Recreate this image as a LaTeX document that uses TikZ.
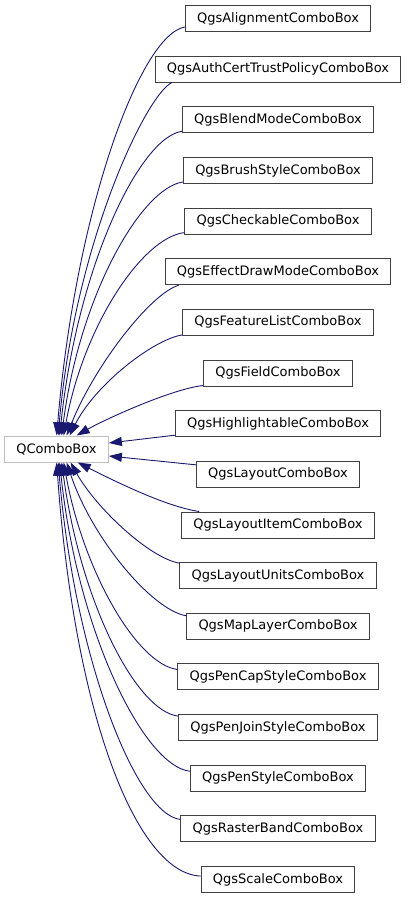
\documentclass[tikz,border=0pt]{standalone}
\usepackage{fontspec}
\setmainfont{DejaVu Sans}
\usetikzlibrary{arrows.meta,calc}
\definecolor{edgeblue}{HTML}{191970}
\definecolor{boxgray}{HTML}{404040}
\definecolor{extgray}{HTML}{BFBFBF}
\begin{document}
\begin{tikzpicture}[x=1bp,y=-1bp,
  cls/.style={draw=boxgray,line width=1bp,fill=white,inner xsep=11.7bp,inner ysep=0pt,
    minimum height=26bp,font=\fontsize{13bp}{15bp}\selectfont,text=black},
  ext/.style={cls,draw=extgray},
  edge/.style={draw=edgeblue,line width=0.9bp,-{Triangle[length=13bp,width=9bp]},
    shorten >=0pt}]
\useasboundingbox (0,0) rectangle (407,899);
\node[ext] (q) at (56.5,449) {QComboBox};
\node[cls] (n1)  at (278,18.5)   {QgsAlignmentComboBox};
\node[cls] (n2)  at (278,69.15)  {QgsAuthCertTrustPolicyComboBox};
\node[cls] (n3)  at (278,119.8)  {QgsBlendModeComboBox};
\node[cls] (n4)  at (278,170.45) {QgsBrushStyleComboBox};
\node[cls] (n5)  at (278,221.1)  {QgsCheckableComboBox};
\node[cls] (n6)  at (278,271.75) {QgsEffectDrawModeComboBox};
\node[cls] (n7)  at (278,322.4)  {QgsFeatureListComboBox};
\node[cls] (n8)  at (278,373.05) {QgsFieldComboBox};
\node[cls] (n9)  at (278,423.7)  {QgsHighlightableComboBox};
\node[cls] (n10) at (278,474.35) {QgsLayoutComboBox};
\node[cls] (n11) at (278,525.0)  {QgsLayoutItemComboBox};
\node[cls] (n12) at (278,575.65) {QgsLayoutUnitsComboBox};
\node[cls] (n13) at (278,626.3)  {QgsMapLayerComboBox};
\node[cls] (n14) at (278,676.95) {QgsPenCapStyleComboBox};
\node[cls] (n15) at (278,727.6)  {QgsPenJoinStyleComboBox};
\node[cls] (n16) at (278,778.25) {QgsPenStyleComboBox};
\node[cls] (n17) at (278,828.9)  {QgsRasterBandComboBox};
\node[cls] (n18) at (278,879.55) {QgsScaleComboBox};
% upper edges
\draw[edge] ($(n1.south west)+(0,-5)$) .. controls +(-45,8) and +(19,-225) .. ($(q.north west)+(52.5,0)$);
\draw[edge] ($(n2.south west)+(17,0)$) .. controls +(-25,12) and +(17,-195) .. ($(q.north west)+(54,0)$);
\draw[edge] ($(n3.south west)+(0,-2)$) .. controls +(-42,6) and +(18,-170) .. ($(q.north west)+(55.5,0)$);
\draw[edge] ($(n4.south west)+(0,-2)$) .. controls +(-42,6) and +(18,-140) .. ($(q.north west)+(57.5,0)$);
\draw[edge] ($(n5.south west)+(0,-2)$) .. controls +(-42,5) and +(20,-110) .. ($(q.north west)+(59.5,0)$);
\draw[edge] ($(n6.south west)+(14,0)$) .. controls +(-28,8) and +(28,-70) .. ($(q.north west)+(62.5,0)$);
\draw[edge] ($(n7.south west)+(0,-1)$) .. controls +(-30,5) and +(25,-50) .. ($(q.north west)+(65.5,0)$);
\draw[edge] ($(n8.south west)+(0,-1)$) .. controls +(-30,3) and +(30,-17) .. ($(q.north west)+(72.5,0)$);
% middle edges
\draw[edge] ($(n9.south west)+(0,-2)$) -- ($(q.east)+(0,-6)$);
\draw[edge] ($(n10.north west)+(0,4)$) -- ($(q.east)+(0,7)$);
% lower edges
\draw[edge] ($(n11.north west)+(18,0)$) .. controls +(-35,-5) and +(30,15) .. ($(q.south west)+(73.5,0)$);
\draw[edge] ($(n12.north west)+(0,1)$) .. controls +(-30,-5) and +(25,45) .. ($(q.south west)+(66.5,0)$);
\draw[edge] ($(n13.north west)+(0,3)$) .. controls +(-35,-6) and +(25,75) .. ($(q.south west)+(62.5,0)$);
\draw[edge] ($(n14.north west)+(0,6)$) .. controls +(-40,-5) and +(20,110) .. ($(q.south west)+(59.5,0)$);
\draw[edge] ($(n15.north west)+(0,2)$) .. controls +(-42,-5) and +(19,140) .. ($(q.south west)+(57.5,0)$);
\draw[edge] ($(n16.north west)+(0,6.5)$) .. controls +(-46,-5) and +(18,170) .. ($(q.south west)+(55.5,0)$);
\draw[edge] ($(n17.north west)+(0,4)$) .. controls +(-43,-4) and +(17,200) .. ($(q.south west)+(54,0)$);
\draw[edge] ($(n18.north west)+(0,10)$) .. controls +(-64,-2.5) and +(18,253) .. ($(q.south west)+(52.5,0)$);
\end{tikzpicture}
\end{document}
